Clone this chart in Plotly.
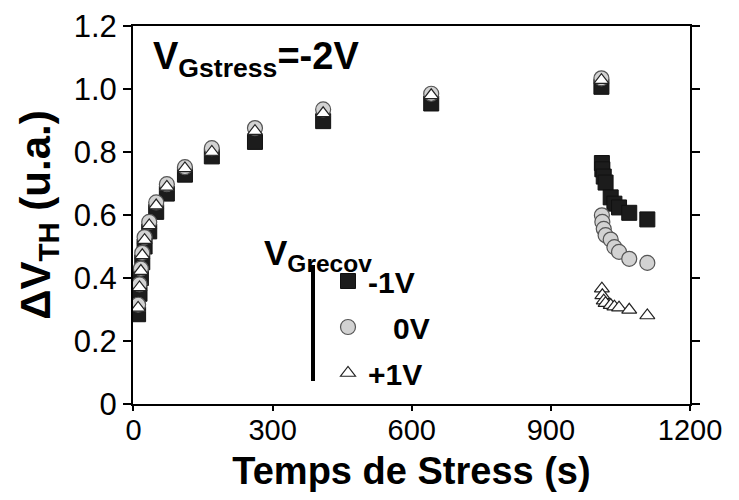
import plotly.graph_objects as go

# ---- data ----
t_stress = [10, 13, 16, 19, 24, 34, 49, 72, 111, 169, 262, 409, 642, 1009]
t_recov = [1010, 1011, 1014, 1018, 1029, 1037, 1047, 1069, 1108]

sq_stress = [0.285, 0.35, 0.40, 0.45, 0.50, 0.548, 0.61, 0.668, 0.728, 0.786, 0.832, 0.898, 0.954, 1.007]
ci_stress = [0.315, 0.38, 0.43, 0.48, 0.53, 0.578, 0.64, 0.698, 0.752, 0.812, 0.876, 0.935, 0.985, 1.034]
tr_stress = [0.305, 0.37, 0.422, 0.472, 0.52, 0.567, 0.63, 0.689, 0.748, 0.80, 0.866, 0.923, 0.98, 1.028]

sq_recov = [0.765, 0.745, 0.722, 0.703, 0.656, 0.636, 0.624, 0.607, 0.586]
ci_recov = [0.599, 0.578, 0.556, 0.536, 0.522, 0.498, 0.483, 0.461, 0.448]
tr_recov = [0.366, 0.345, 0.328, 0.32, 0.314, 0.309, 0.306, 0.299, 0.281]

series_names = ["-1V", "\u00a0\u00a0\u00a00V", "+1V"]
x_ticks = [0, 300, 600, 900, 1200]
x_ticktext = ["0", "300", "600", "900", "1200"]
y_ticks = [0, 0.2, 0.4, 0.6, 0.8, 1.0, 1.2]
y_ticktext = ["0", "0.2", "0.4", "0.6", "0.8", "1.0", "1.2"]
x_range = [-1, 1200]
y_range = [0, 1.2]

FONT = "Liberation Sans, Arial, sans-serif"

# layout geometry in window pixels; the page body has an 8px margin
BODY = 8
W, H = 739, 500
ML, MR, MT, MB = 133, 49, 26, 96
PW, PH = W - ML - MR, H - MT - MB


def px(x):
    return (x - ML) / PW


def py(y):
    return (H - MB - y) / PH


fig = go.Figure()

t_all = t_stress + t_recov
fig.add_trace(go.Scatter(
    x=t_all, y=sq_stress + sq_recov, mode="markers", name=series_names[0],
    marker=dict(symbol="square", size=15, color="#1c1c1c",
                line=dict(color="#111111", width=1)),
    legendgroup="a"))
fig.add_trace(go.Scatter(
    x=t_all, y=ci_stress + ci_recov, mode="markers", name=series_names[1],
    marker=dict(symbol="circle", size=15, color="#d2d2d2",
                line=dict(color="#555555", width=1.2)),
    legendgroup="b"))
fig.add_trace(go.Scatter(
    x=t_all, y=tr_stress + tr_recov, mode="markers", name=series_names[2],
    marker=dict(symbol="triangle-up", size=13, color="#ffffff",
                line=dict(color="#222222", width=1.2)),
    legendgroup="c"))

axis_common = dict(
    showline=True, linecolor="black", linewidth=2,
    ticks="outside", tickwidth=2, tickcolor="black",
    showgrid=False, zeroline=False,
)

fig.update_layout(
    xaxis=dict(
        range=x_range, tickvals=x_ticks, ticktext=x_ticktext, mirror=True,
        ticklen=5, ticklabelstandoff=-6,
        tickfont=dict(family=FONT, size=29, color="black"),
        title=dict(text="Temps de Stress (s)", standoff=13,
                   font=dict(family=FONT, size=38, color="black", weight="bold")),
        **axis_common),
    yaxis=dict(
        range=y_range, tickvals=y_ticks, ticktext=y_ticktext, mirror="ticks",
        ticklen=8,
        tickfont=dict(family=FONT, size=31, color="black"),
        title=dict(text="\u0394V<sub>TH</sub> (u.a.)", standoff=10,
                   font=dict(family=FONT, size=42, color="black", weight="bold")),
        **axis_common),
    xaxis2=dict(overlaying="x", side="top", anchor="y", range=x_range,
                tickvals=x_ticks, ticks="inside", ticklen=6, tickwidth=2,
                tickcolor="black", showticklabels=False, showline=False,
                showgrid=False, zeroline=False),
    yaxis2=dict(overlaying="y", side="right", anchor="x", range=y_range,
                tickvals=y_ticks, ticks="inside", ticklen=8, tickwidth=2,
                tickcolor="black", showticklabels=False, showline=False,
                showgrid=False, zeroline=False),
)

fig.update_layout(
    width=W - BODY, height=H - BODY,
    margin=dict(l=ML - BODY, r=MR, t=MT - BODY, b=MB, autoexpand=False),
    paper_bgcolor="white", plot_bgcolor="white",
    showlegend=True,
    legend=dict(x=px(328), y=py(255), xanchor="left", yanchor="top",
                font=dict(family=FONT, size=30, color="black", weight="bold"),
                bgcolor="rgba(0,0,0,0)", tracegroupgap=4, itemsizing="trace"),
    annotations=[
        dict(text="V<sub>Gstress</sub>=-2V", x=px(151), y=py(59),
             xref="paper", yref="paper", xanchor="left", yanchor="middle",
             showarrow=False,
             font=dict(family=FONT, size=38, color="black", weight="bold")),
        dict(text="V<sub>Grecov</sub>", x=px(262), y=py(255),
             xref="paper", yref="paper", xanchor="left", yanchor="middle",
             showarrow=False,
             font=dict(family=FONT, size=35, color="black", weight="bold")),
    ],
    shapes=[
        dict(type="line", xref="paper", yref="paper",
             x0=px(313), x1=px(313), y0=py(265), y1=py(381),
             line=dict(color="black", width=4)),
    ],
)

fig.write_html("out.html")
